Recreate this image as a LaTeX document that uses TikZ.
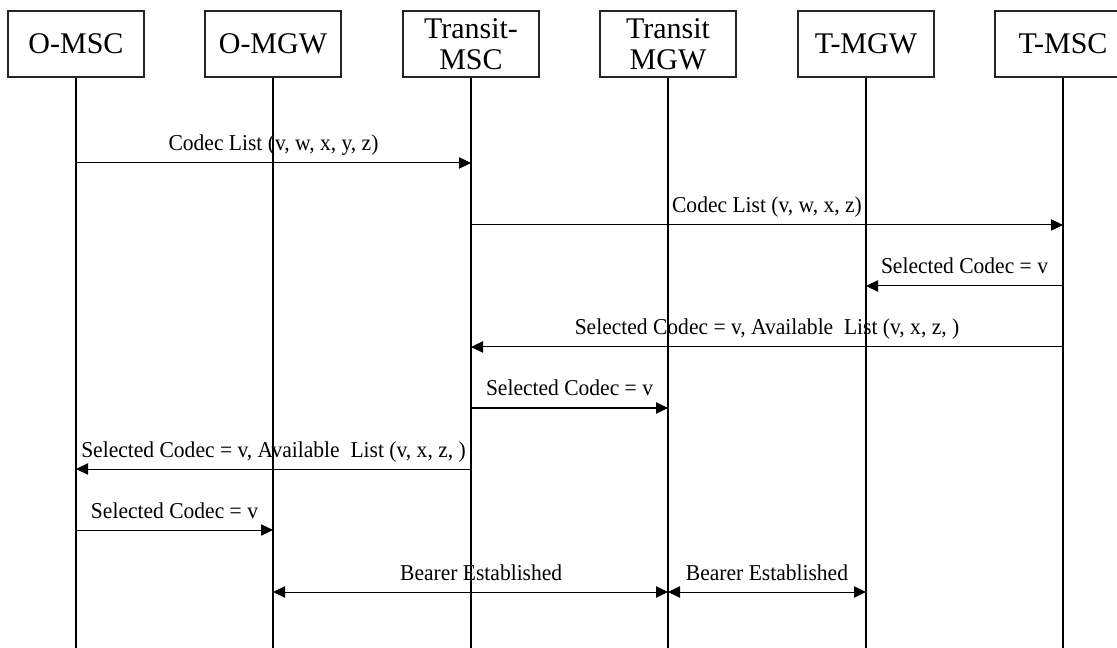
\documentclass[tikz,border=0pt]{standalone}
\usepackage{fontspec}
\setmainfont{Liberation Serif}
\newfontfamily\lblfont[FakeStretch=0.95]{Liberation Serif}
\usetikzlibrary{arrows.meta,positioning}

\begin{document}
\begin{tikzpicture}[
  x=0.75pt, y=-0.75pt,
  entity/.style={rectangle, draw=black!85, line width=0.8pt, minimum width=102pt, minimum height=49.5pt, inner sep=0pt, align=center, font=\fontsize{22.5}{23.5}\selectfont},
  life/.style={line width=1.9pt},
  msg/.style={-{Triangle[length=9pt,width=8.5pt]}, line width=0.75pt},
  bmsg/.style={{Triangle[length=9pt,width=8.5pt]}-{Triangle[length=9pt,width=8.5pt]}, line width=0.75pt},
  lbl/.style={font=\lblfont\fontsize{17}{17}\selectfont, anchor=base, yshift=9pt, inner sep=0pt},
]
\useasboundingbox (0,0) rectangle (1117,648);

% Entities
\node[entity] (omsc) at (76,44) {O-MSC};
\node[entity] (omgw) at (273,44) {O-MGW};
\node[entity] (trmsc) at (471,44) {Transit-\\MSC};
\node[entity] (trmgw) at (668,44) {Transit\\MGW};
\node[entity] (tmgw) at (866,44) {T-MGW};
\node[entity] (tmsc) at (1063,44) {T-MSC};

% Lifelines
\coordinate (omscE) at (76,648);
\coordinate (omgwE) at (273,648);
\coordinate (trmscE) at (471,648);
\coordinate (trmgwE) at (668,648);
\coordinate (tmgwE) at (866,648);
\coordinate (tmscE) at (1063,648);
\draw[life] (omsc) -- (omscE);
\draw[life] (omgw) -- (omgwE);
\draw[life] (trmsc) -- (trmscE);
\draw[life] (trmgw) -- (trmgwE);
\draw[life] (tmgw) -- (tmgwE);
\draw[life] (tmsc) -- (tmscE);

% Codec negotiation
\draw[msg] (omsc |- 0,163) -- node[lbl] {Codec List (v, w, x, y, z)} (trmsc |- 0,163);
\draw[msg] (trmsc |- 0,225) -- node[lbl] {Codec List (v, w, x, z)} (tmsc |- 0,225);
\draw[msg] (tmsc |- 0,286) -- node[lbl] {Selected Codec = v} (tmgw |- 0,286);
\draw[msg] (tmsc |- 0,347) -- node[lbl] {Selected Codec = v, Available\ \ List (v, x, z, )} (trmsc |- 0,347);
\draw[msg] (trmsc |- 0,408) -- node[lbl] {Selected Codec = v} (trmgw |- 0,408);
\draw[msg] (trmsc |- 0,469) -- node[lbl] {Selected Codec = v, Available\ \ List (v, x, z, )} (omsc |- 0,469);
\draw[msg] (omsc |- 0,530) -- node[lbl] {Selected Codec = v} (omgw |- 0,530);

% Bearers
\draw[bmsg] (omgw |- 0,592) -- node[lbl, xshift=8pt] {Bearer Established} (trmgw |- 0,592);
\draw[bmsg] (trmgw |- 0,592) -- node[lbl] {Bearer Established} (tmgw |- 0,592);

\end{tikzpicture}
\end{document}
